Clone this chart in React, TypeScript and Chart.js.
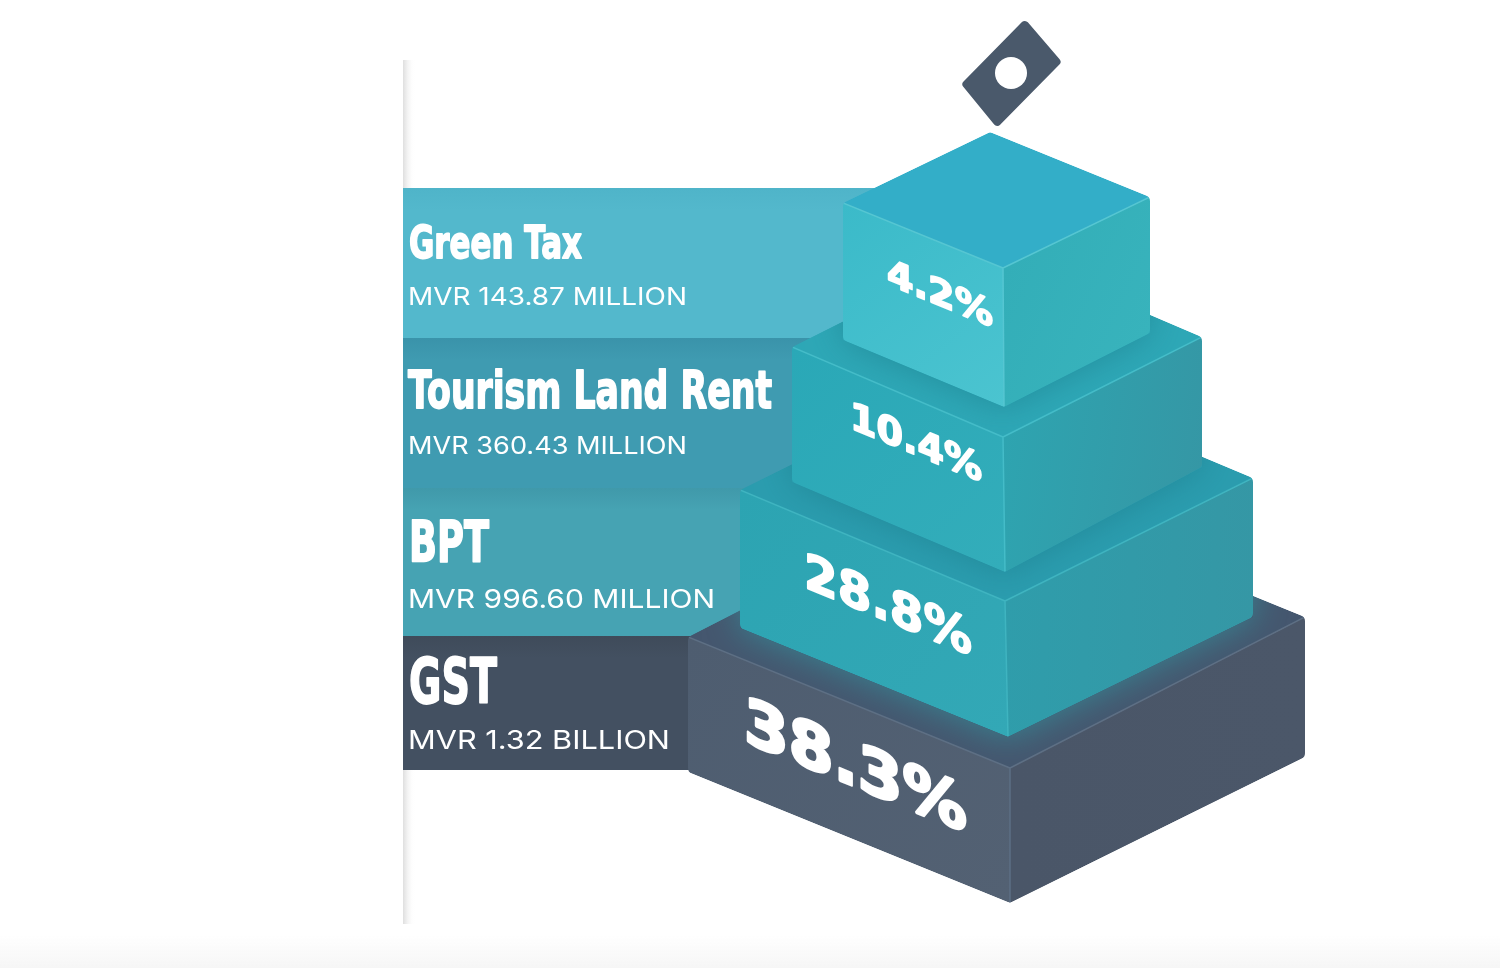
import { useEffect, useRef } from "react"
import Chart from "chart.js/auto"

const categories = ["Green Tax", "Tourism Land Rent", "BPT", "GST"]
const amounts = ["MVR 143.87 MILLION", "MVR 360.43 MILLION", "MVR 996.60 MILLION", "MVR 1.32 BILLION"]
const shares = ["4.2%", "10.4%", "28.8%", "38.3%"]

// the axes run in page pixels, so everything below is placed through the scales
const bandEdges = [188, 338, 488, 636, 770]
const bandLeft = 403
const bandRight = 900
const bandColors = [
  ["#4fb4c9", "#53b8cc"],
  ["#3a93aa", "#3f9bb1"],
  ["#4099aa", "#46a3b3"],
  ["#3f4b5a", "#435061"],
]

const titleBoxes = [
  { x: 409, base: 258, cap: 33, w: 173 },
  { x: 408, base: 408, cap: 38, w: 364 },
  { x: 409, base: 562, cap: 41, w: 80 },
  { x: 409, base: 703, cap: 46, w: 88 },
]
const amountBoxes = [
  { x: 408, base: 305, cap: 18, w: 279 },
  { x: 408, base: 454, cap: 18, w: 279 },
  { x: 408, base: 608, cap: 19, w: 307 },
  { x: 408, base: 749, cap: 19, w: 262 },
]
const shareBoxes = [
  { x: 887, base: 284, cap: 27, w: 106 },
  { x: 850, base: 428, cap: 28, w: 132 },
  { x: 804, base: 587, cap: 36, w: 168 },
  { x: 744, base: 741, cap: 46, w: 223 },
]

const blocks = [
  {
    left: [843, 203], right: [1150, 197], front: [1003, 268],
    leftB: [843, 340], rightB: [1150, 333], frontB: [1004, 407],
    top: "#33aec8", leftC: ["#3bbac9", "#4bc4d0"], rightC: ["#33aeb8", "#38b3bc"], edge: "#55c6d2",
  },
  {
    left: [792, 347], right: [1202, 337], front: [1003, 437],
    leftB: [792, 482], rightB: [1202, 467], frontB: [1005, 572],
    top: "#2da7b6", leftC: ["#2aa8b7", "#33adba"], rightC: ["#2ea4b0", "#3597a5"], edge: "#44bcc8",
  },
  {
    left: [740, 490], right: [1253, 478], front: [1005, 601],
    leftB: [740, 628], rightB: [1253, 617], frontB: [1008, 737],
    top: "#2a9cae", leftC: ["#2ca4b2", "#33a8b6"], rightC: ["#2f9dab", "#3597a5"], edge: "#3fb4c0",
  },
  {
    left: [688, 637], right: [1305, 617], front: [1010, 768],
    leftB: [688, 772], rightB: [1305, 757], frontB: [1010, 903],
    top: "#44566e", leftC: ["#4e5d70", "#536173"], rightC: ["#4a5668", "#4b5769"], edge: "#5d6f84",
  },
]

const ticket = { corners: [[1025, 19], [1062, 62], [997, 128], [961, 84]], hole: [1011, 73], r: 16 }

type Pt = number[]

function tracePath(ctx: CanvasRenderingContext2D, pts: Pt[], radius = 0) {
  ctx.beginPath()
  if (!radius) {
    pts.forEach((p, i) => (i ? ctx.lineTo(p[0], p[1]) : ctx.moveTo(p[0], p[1])))
    ctx.closePath()
    return
  }
  const last = pts[pts.length - 1]
  ctx.moveTo((last[0] + pts[0][0]) / 2, (last[1] + pts[0][1]) / 2)
  pts.forEach((p, i) => {
    const next = pts[(i + 1) % pts.length]
    ctx.arcTo(p[0], p[1], next[0], next[1], radius)
  })
  ctx.closePath()
}

function fillFace(ctx: CanvasRenderingContext2D, pts: Pt[], colors: string | string[], from?: Pt, to?: Pt) {
  tracePath(ctx, pts)
  if (typeof colors === "string") {
    ctx.fillStyle = colors
  } else {
    const g = ctx.createLinearGradient(from![0], from![1], to![0], to![1])
    g.addColorStop(0, colors[0])
    g.addColorStop(1, colors[1])
    ctx.fillStyle = g
  }
  ctx.fill()
}

// squeezes or widens the text to the width
function fitText(ctx: CanvasRenderingContext2D, text: string, font: string, capRatio: number, box: any, slope = 0, heavy = 0) {
  const size = box.cap / capRatio
  ctx.font = font.replace("SIZE", size + "px")
  const sx = box.w / ctx.measureText(text).width
  ctx.save()
  ctx.fillStyle = "#ffffff"
  ctx.strokeStyle = "#ffffff"
  ctx.lineWidth = heavy
  ctx.lineJoin = "round"
  ctx.textBaseline = "alphabetic"
  ctx.textAlign = "left"
  ctx.transform(sx, slope * sx, 0, 1, box.x, box.base)
  ctx.fillText(text, 0, 0)
  if (heavy) ctx.strokeText(text, 0, 0)
  ctx.restore()
}

const pyramid = {
  id: "pyramid",
  beforeDatasetsDraw(chart: any) {
    const { ctx, scales } = chart
    const X = (v: number) => scales.x.getPixelForValue(v)
    const Y = (v: number) => scales.y.getPixelForValue(v)

    // faint grey rule down the left edge and the grey strip at the foot of the page
    ctx.save()
    const foot = ctx.createLinearGradient(0, Y(935), 0, Y(968))
    foot.addColorStop(0, "rgba(246,246,246,0)")
    foot.addColorStop(1, "rgba(246,246,246,1)")
    ctx.fillStyle = foot
    ctx.fillRect(X(0), Y(935), X(1500), Y(968) - Y(935))
    const rule = ctx.createLinearGradient(X(403), 0, X(415), 0)
    rule.addColorStop(0, "#dedede")
    rule.addColorStop(1, "rgba(255,255,255,0)")
    ctx.fillStyle = rule
    ctx.fillRect(X(403), Y(60), X(415) - X(403), Y(924) - Y(60))
    ctx.restore()
  },
  afterDatasetsDraw(chart: any) {
    const { ctx, scales } = chart
    const P = (p: Pt) => [scales.x.getPixelForValue(p[0]), scales.y.getPixelForValue(p[1])]

    ctx.save()
    for (let i = blocks.length - 1; i >= 0; i--) {
      const b = blocks[i]
      const left = P(b.left), right = P(b.right), front = P(b.front)
      const leftB = P(b.leftB), rightB = P(b.rightB), frontB = P(b.frontB)
      const apex = [left[0] + right[0] - front[0], left[1] + right[1] - front[1]]
      const outline = [apex, right, rightB, frontB, leftB, left]

      ctx.save()
      tracePath(ctx, outline, 6)
      ctx.clip()
      fillFace(ctx, [apex, right, front, left], b.top)
      fillFace(ctx, [left, front, frontB, leftB], b.leftC, left, frontB)
      fillFace(ctx, [front, right, rightB, frontB], b.rightC, front, rightB)

      // soft teal spill from the block sitting on this one
      const above = blocks[i - 1]
      if (above) {
        ctx.save()
        tracePath(ctx, [apex, right, front, left])
        ctx.clip()
        ctx.shadowColor = i === 3 ? "rgba(50,150,160,0.75)" : "rgba(25,120,135,0.55)"
        ctx.shadowBlur = 34
        ctx.fillStyle = b.top
        tracePath(ctx, [P(above.left), P(above.leftB), P(above.frontB), P(above.rightB), P(above.right), P(above.front)])
        ctx.fill()
        ctx.restore()
      }

      // lit edges where the faces meet
      ctx.strokeStyle = b.edge
      ctx.lineWidth = 1.5
      ctx.lineJoin = "round"
      ctx.beginPath()
      ctx.moveTo(left[0], left[1])
      ctx.lineTo(front[0], front[1])
      ctx.lineTo(right[0], right[1])
      ctx.moveTo(front[0], front[1])
      ctx.lineTo(frontB[0], frontB[1])
      ctx.stroke()
      ctx.restore()
    }

    // the ballot paper above the top block
    tracePath(ctx, ticket.corners.map(P), 4)
    ctx.fillStyle = "#4a596b"
    ctx.fill()
    const hole = P(ticket.hole)
    ctx.beginPath()
    ctx.arc(hole[0], hole[1], ticket.r, 0, Math.PI * 2)
    ctx.fillStyle = "#ffffff"
    ctx.fill()

    categories.forEach((name, i) => {
      fitText(ctx, name, "bold SIZE 'DejaVu Sans'", 0.729, titleBoxes[i], 0, 1.8)
      fitText(ctx, amounts[i], "SIZE Inter", 0.727, amountBoxes[i])
      fitText(ctx, shares[i], "bold SIZE 'DejaVu Sans'", 0.729, shareBoxes[i], 0.41, i === 3 ? 3 : 1.8)
    })
    ctx.restore()
  },
}

export default function App() {
  const ref = useRef<HTMLCanvasElement>(null)

  useEffect(() => {
    if (!ref.current) return
    document.body.style.margin = "0"
    document.body.style.background = "#ffffff"

    const chart = new Chart(ref.current, {
      type: "bar",
      data: {
        datasets: categories.map((name, i) => {
          const top = bandEdges[i]
          const bottom = bandEdges[i + 1]
          return {
            label: name,
            data: [{ x: [bandLeft, bandRight], y: (top + bottom) / 2 }],
            maxBarThickness: bottom - top,
            barPercentage: 1.3,
            categoryPercentage: 1,
            grouped: false,
            borderWidth: 0,
            backgroundColor: (c: any) => {
              const { ctx, scales } = c.chart
              const y0 = scales.y ? scales.y.getPixelForValue(top) : NaN
              const y1 = scales.y ? scales.y.getPixelForValue(top + 22) : NaN
              if (!Number.isFinite(y0) || !Number.isFinite(y1)) return bandColors[i][1]
              const g = ctx.createLinearGradient(0, y0, 0, y1)
              g.addColorStop(0, bandColors[i][0])
              g.addColorStop(1, bandColors[i][1])
              return g
            },
          }
        }) as any,
      },
      options: {
        indexAxis: "y",
        responsive: false,
        animation: false,
        layout: { padding: 0 },
        scales: {
          x: { type: "linear", min: 0, max: 1500, display: false },
          y: { type: "linear", min: 0, max: 968, reverse: true, offset: false, display: false, ticks: { stepSize: 968 } },
        },
        plugins: {
          legend: { display: false },
          tooltip: { enabled: false },
        },
      },
      plugins: [pyramid],
    })

    return () => { chart.destroy() }
  }, [])

  return <canvas ref={ref} width={1500} height={968} style={{ display: "block" }} />
}
